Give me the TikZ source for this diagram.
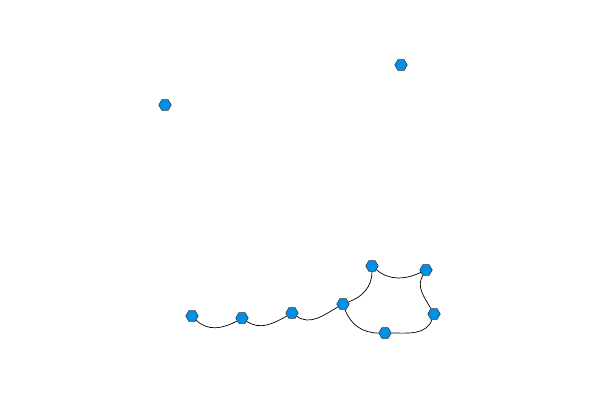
\documentclass[tikz,border=0pt]{standalone}
\usetikzlibrary{shapes.geometric}
\definecolor{hexblue}{RGB}{0,145,230}
\tikzstyle{hex graph}=[
    x=1pt,y=-1pt,
    every node/.style={
        regular polygon, regular polygon sides=6,
        draw=black!80, fill=hexblue, line width=0.5pt,
        inner sep=0pt, minimum size=12.5pt,
}]

\begin{document}
\begin{tikzpicture}[hex graph]
        \useasboundingbox (0,0) rectangle (600,400);
        \node (v1) at (165,105) {};
        \node (v2) at (401,65) {};
        \node (v3) at (192,316) {};
        \node (v4) at (242,318) {};
        \node (v5) at (292,313) {};
        \node (v6) at (343,304) {};
        \node (v7) at (372,266) {};
        \node (v8) at (426,270) {};
        \node (v9) at (434,314) {};
        \node (v10) at (385,333) {};

        \path[draw, line width=0.7pt]
            (v3) edge[out=-45, in=-150] (v4)
            (v4) edge[out=-35, in=-150] (v5)
            (v5) edge[out=-35, in=-150] (v6)
            (v6) edge[out=20, in=-90] (v7)
            (v7) edge[out=-40, in=-155] (v8)
            (v8) edge[out=-120, in=120] (v9)
            (v6) edge[out=-70, in=180] (v10)
            (v10) edge[out=0, in=-110] (v9)
        ;
    \end{tikzpicture}
\end{document}
